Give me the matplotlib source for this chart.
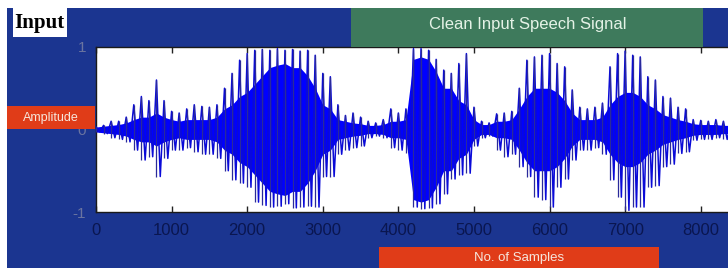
import numpy as np
import matplotlib
matplotlib.use("Agg")
import matplotlib.pyplot as plt
from matplotlib.patches import Rectangle

plt.rcParams["axes.unicode_minus"] = False

# peak envelope of the waveform, read every 100 samples (0 .. 8400)
samples = np.arange(0, 8500, 100)
peak_up = [0.03, 0.05, 0.10, 0.10, 0.15, 0.30, 0.40, 0.35, 0.60, 0.35,
           0.22, 0.20, 0.25, 0.30, 0.28, 0.27, 0.30, 0.50, 0.68, 0.84,
           0.92, 0.96, 0.97, 0.96, 0.98, 0.96, 0.97, 0.95, 0.96, 0.90,
           0.68, 0.64, 0.30, 0.17, 0.20, 0.15, 0.10, 0.08, 0.12, 0.25,
           0.20, 0.25, 0.98, 0.98, 0.96, 0.85, 0.72, 0.68, 0.80, 0.92,
           0.27, 0.10, 0.08, 0.19, 0.20, 0.22, 0.50, 0.84, 0.88, 0.90,
           0.92, 0.80, 0.76, 0.48, 0.27, 0.25, 0.27, 0.32, 0.76, 0.92,
           0.95, 0.90, 0.88, 0.64, 0.60, 0.40, 0.38, 0.27, 0.25, 0.12,
           0.11, 0.10, 0.12, 0.10, 0.10]
peak_lo = [-0.03, -0.05, -0.10, -0.12, -0.15, -0.25, -0.37, -0.33, -0.57, -0.35,
           -0.25, -0.25, -0.22, -0.27, -0.30, -0.30, -0.35, -0.50, -0.61, -0.65,
           -0.70, -0.88, -0.92, -0.94, -0.93, -0.90, -0.95, -0.94, -0.93, -0.94,
           -0.57, -0.57, -0.30, -0.25, -0.22, -0.20, -0.10, -0.08, -0.10, -0.22,
           -0.25, -0.28, -0.94, -0.96, -0.95, -0.90, -0.78, -0.60, -0.55, -0.53,
           -0.20, -0.10, -0.08, -0.25, -0.33, -0.30, -0.45, -0.57, -0.82, -0.85,
           -0.94, -0.70, -0.60, -0.37, -0.25, -0.25, -0.22, -0.30, -0.61, -0.82,
           -0.98, -0.94, -0.94, -0.70, -0.68, -0.45, -0.42, -0.29, -0.27, -0.13,
           -0.12, -0.12, -0.10, -0.12, -0.10]
# dense (solid) core of the waveform, same sample grid
core_amp = [0.03, 0.04, 0.05, 0.06, 0.08, 0.12, 0.15, 0.15, 0.20, 0.15,
            0.12, 0.10, 0.12, 0.12, 0.12, 0.12, 0.15, 0.25, 0.30, 0.40,
            0.45, 0.55, 0.65, 0.75, 0.78, 0.80, 0.75, 0.75, 0.65, 0.50,
            0.30, 0.25, 0.12, 0.10, 0.08, 0.07, 0.05, 0.05, 0.06, 0.10,
            0.10, 0.12, 0.85, 0.88, 0.85, 0.70, 0.50, 0.50, 0.35, 0.30,
            0.12, 0.06, 0.06, 0.10, 0.10, 0.12, 0.25, 0.40, 0.50, 0.50,
            0.50, 0.45, 0.35, 0.20, 0.12, 0.12, 0.12, 0.15, 0.30, 0.40,
            0.45, 0.45, 0.40, 0.30, 0.25, 0.18, 0.15, 0.12, 0.10, 0.07,
            0.06, 0.06, 0.06, 0.05, 0.05]

xticks = [0, 1000, 2000, 3000, 4000, 5000, 6000, 7000, 8000]
yticks = [-1, 0, 1]

navy = "#1b3590"
W, H = 728, 268

fig = plt.figure(figsize=(W / 100, H / 100), dpi=100)
fig.patch.set_facecolor("white")

def box(x0, y0, x1, y1, color, z=1):
    # pixel box (top-left origin) -> figure coords
    fig.patches.append(Rectangle((x0 / W, 1 - y1 / H), (x1 - x0) / W, (y1 - y0) / H,
                                 transform=fig.transFigure, facecolor=color,
                                 edgecolor="none", zorder=z))

box(7, 8, W, H, navy, z=-5)

ax = fig.add_axes([96 / W, 1 - 212 / H, 1 - 96 / W + 0.002, (212 - 47) / H])
ax.set_facecolor("white")

# interleave up/down peaks to get the oscillating trace
zx = np.ravel(np.column_stack([samples, samples + 50]))
zy = np.ravel(np.column_stack([peak_up, peak_lo]))
ax.fill_between(samples, -np.array(core_amp), core_amp, color="#0000ff", lw=0, zorder=2)
ax.plot(zx, zy, color="#0a0ad8", lw=1.1, zorder=3)
ax.vlines(samples, peak_lo, peak_up, color="#2a2a9a", lw=0.9, zorder=3)

ax.set_xlim(0, 8380)
ax.set_ylim(-1, 1)
ax.set_xticks(xticks)
ax.set_yticks(yticks)
ax.tick_params(axis="x", direction="in", length=4, width=1, color="#222222",
               top=True, pad=8, labelsize=12, labelcolor="#0a1650")
ax.tick_params(axis="y", direction="in", length=0, pad=7, labelsize=11,
               labelcolor="#6a74a0")
for lab in ax.get_xticklabels() + ax.get_yticklabels():
    lab.set_family("Liberation Sans")
for s in ax.spines.values():
    s.set_color("#1a1a1a")
    s.set_linewidth(1)

# header / label boxes
box(13, 8, 67, 37, "white", z=2)
box(351, 8, 703, 47, "#3e7a5c", z=2)
box(7, 106, 95, 129, "#e03c18", z=2)
box(379, 247, 659, 268, "#e03c18", z=2)

fig.text(39 / W, 1 - 23 / H, "Input", family="Liberation Serif", weight="bold",
         fontsize=15, color="black", ha="center", va="center", zorder=5)
fig.text(528 / W, 1 - 25 / H, "Clean Input Speech Signal", family="Liberation Sans",
         fontsize=12, color="#e4f2e6", ha="center", va="center", zorder=5)
fig.text(51 / W, 1 - 117.5 / H, "Amplitude", family="Liberation Sans",
         fontsize=9, color="#f6e6dc", ha="center", va="center", zorder=5)
fig.text(519 / W, 1 - 257.5 / H, "No. of Samples", family="Liberation Sans",
         fontsize=9.5, color="#f6e6dc", ha="center", va="center", zorder=5)

fig.savefig("out.png", dpi=100, facecolor=fig.get_facecolor())
